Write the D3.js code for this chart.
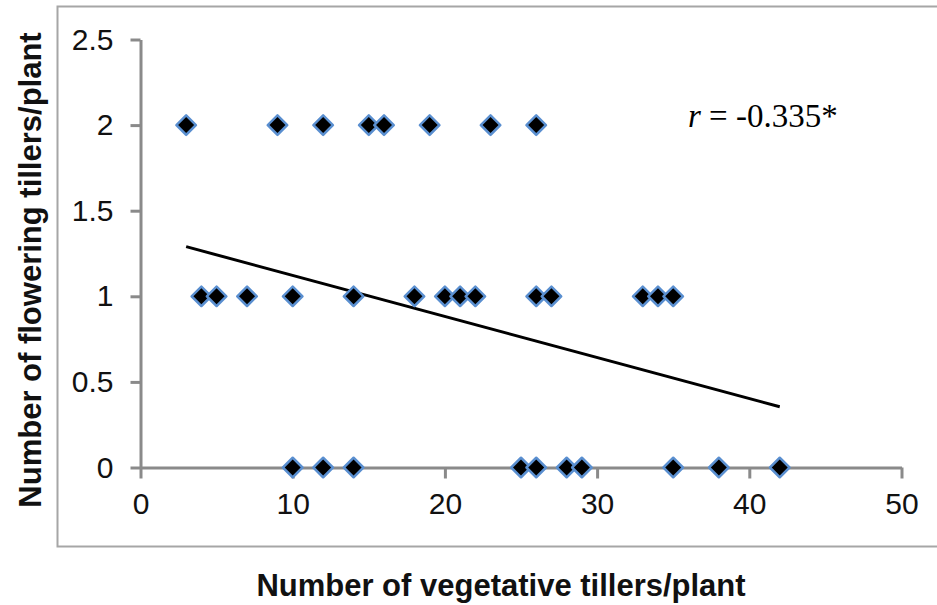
<!DOCTYPE html>
<html>
<head>
<meta charset="utf-8">
<script src="https://cdn.jsdelivr.net/npm/d3@7"></script>
<style>
  html, body { margin: 0; padding: 0; background: #fff; }
  svg { display: block; }
</style>
</head>
<body>
<svg id="chart" width="937" height="605"></svg>
<script>
// Observations: vegetative tillers per plant vs. flowering tillers per plant
const vegetativeTillers = [3, 9, 12, 15, 16, 19, 23, 26,
                           4, 5, 7, 10, 14, 18, 20, 21, 22, 26, 27, 33, 34, 35,
                           10, 12, 14, 25, 26, 28, 29, 35, 38, 42];
const floweringTillers  = [2, 2, 2, 2, 2, 2, 2, 2,
                           1, 1, 1, 1, 1, 1, 1, 1, 1, 1, 1, 1, 1, 1,
                           0, 0, 0, 0, 0, 0, 0, 0, 0, 0];

// Linear trend line end points
const trendX = [3, 42];
const trendY = [1.29, 0.355];

const xTicks = [0, 10, 20, 30, 40, 50];
const yTicks = [0, 0.5, 1, 1.5, 2, 2.5];
const correlationLabel = "-0.335*";

const svg = d3.select("#chart");

// Outer chart frame
svg.append("rect")
  .attr("x", 57.5).attr("y", 6.5)
  .attr("width", 890).attr("height", 540)
  .attr("fill", "none")
  .attr("stroke", "#a6a6a6")
  .attr("stroke-width", 2);

const x = d3.scaleLinear().domain([0, 50]).range([140.5, 901.5]);
const y = d3.scaleLinear().domain([0, 2.5]).range([467.5, 39.5]);

const axisColor = "#8a8a8a";
const tickFont = "'Liberation Sans', Arial, sans-serif";

// X axis
const gx = svg.append("g")
  .attr("transform", `translate(0,${y(0)})`)
  .call(d3.axisBottom(x).tickValues(xTicks).tickFormat(d3.format("d"))
    .tickSizeInner(11).tickSizeOuter(0).tickPadding(14));
gx.select(".domain").attr("stroke", axisColor).attr("stroke-width", 3);
gx.selectAll(".tick line").attr("stroke", axisColor).attr("stroke-width", 3);
gx.selectAll(".tick text")
  .attr("font-family", tickFont).attr("font-size", 30).attr("fill", "#111");

// Y axis
const gy = svg.append("g")
  .attr("transform", `translate(${x(0)},0)`)
  .call(d3.axisLeft(y).tickValues(yTicks).tickFormat(d => String(d))
    .tickSizeInner(10).tickSizeOuter(0).tickPadding(17));
gy.select(".domain").attr("stroke", axisColor).attr("stroke-width", 3);
gy.selectAll(".tick line").attr("stroke", axisColor).attr("stroke-width", 3);
gy.selectAll(".tick text")
  .attr("font-family", tickFont).attr("font-size", 30).attr("fill", "#111");

// Trend line
svg.append("line")
  .attr("x1", x(trendX[0])).attr("y1", y(trendY[0]))
  .attr("x2", x(trendX[1])).attr("y2", y(trendY[1]))
  .attr("stroke", "#000")
  .attr("stroke-width", 3);

// Diamond markers
const points = vegetativeTillers.map((v, i) => ({ v, f: floweringTillers[i] }));
const diamond = d3.symbol().type(d3.symbolSquare).size(190);
svg.append("g").selectAll("path")
  .data(points)
  .join("path")
  .attr("d", diamond)
  .attr("transform", d => `translate(${x(d.v)},${y(d.f)}) rotate(45)`)
  .attr("fill", "#000")
  .attr("stroke", "#5a8fd0")
  .attr("stroke-width", 2.5)
  .attr("stroke-linejoin", "round");

// Correlation coefficient annotation
const rText = svg.append("text")
  .attr("x", 688).attr("y", 127)
  .attr("font-family", "'Liberation Serif', 'Times New Roman', serif")
  .attr("font-size", 33)
  .attr("fill", "#000");
rText.append("tspan").attr("font-style", "italic").text("r");
rText.append("tspan").text(" = " + correlationLabel);

// Axis titles
const titleFont = "'Liberation Sans', Arial, sans-serif";
svg.append("text")
  .attr("x", 501).attr("y", 596)
  .attr("text-anchor", "middle")
  .attr("font-family", titleFont)
  .attr("font-weight", "bold")
  .attr("font-size", 31)
  .attr("fill", "#111")
  .text("Number of vegetative tillers/plant");

svg.append("text")
  .attr("transform", "translate(41,270) rotate(-90)")
  .attr("text-anchor", "middle")
  .attr("font-family", titleFont)
  .attr("font-weight", "bold")
  .attr("font-size", 31)
  .attr("fill", "#111")
  .text("Number of flowering tillers/plant");
</script>
</body>
</html>
